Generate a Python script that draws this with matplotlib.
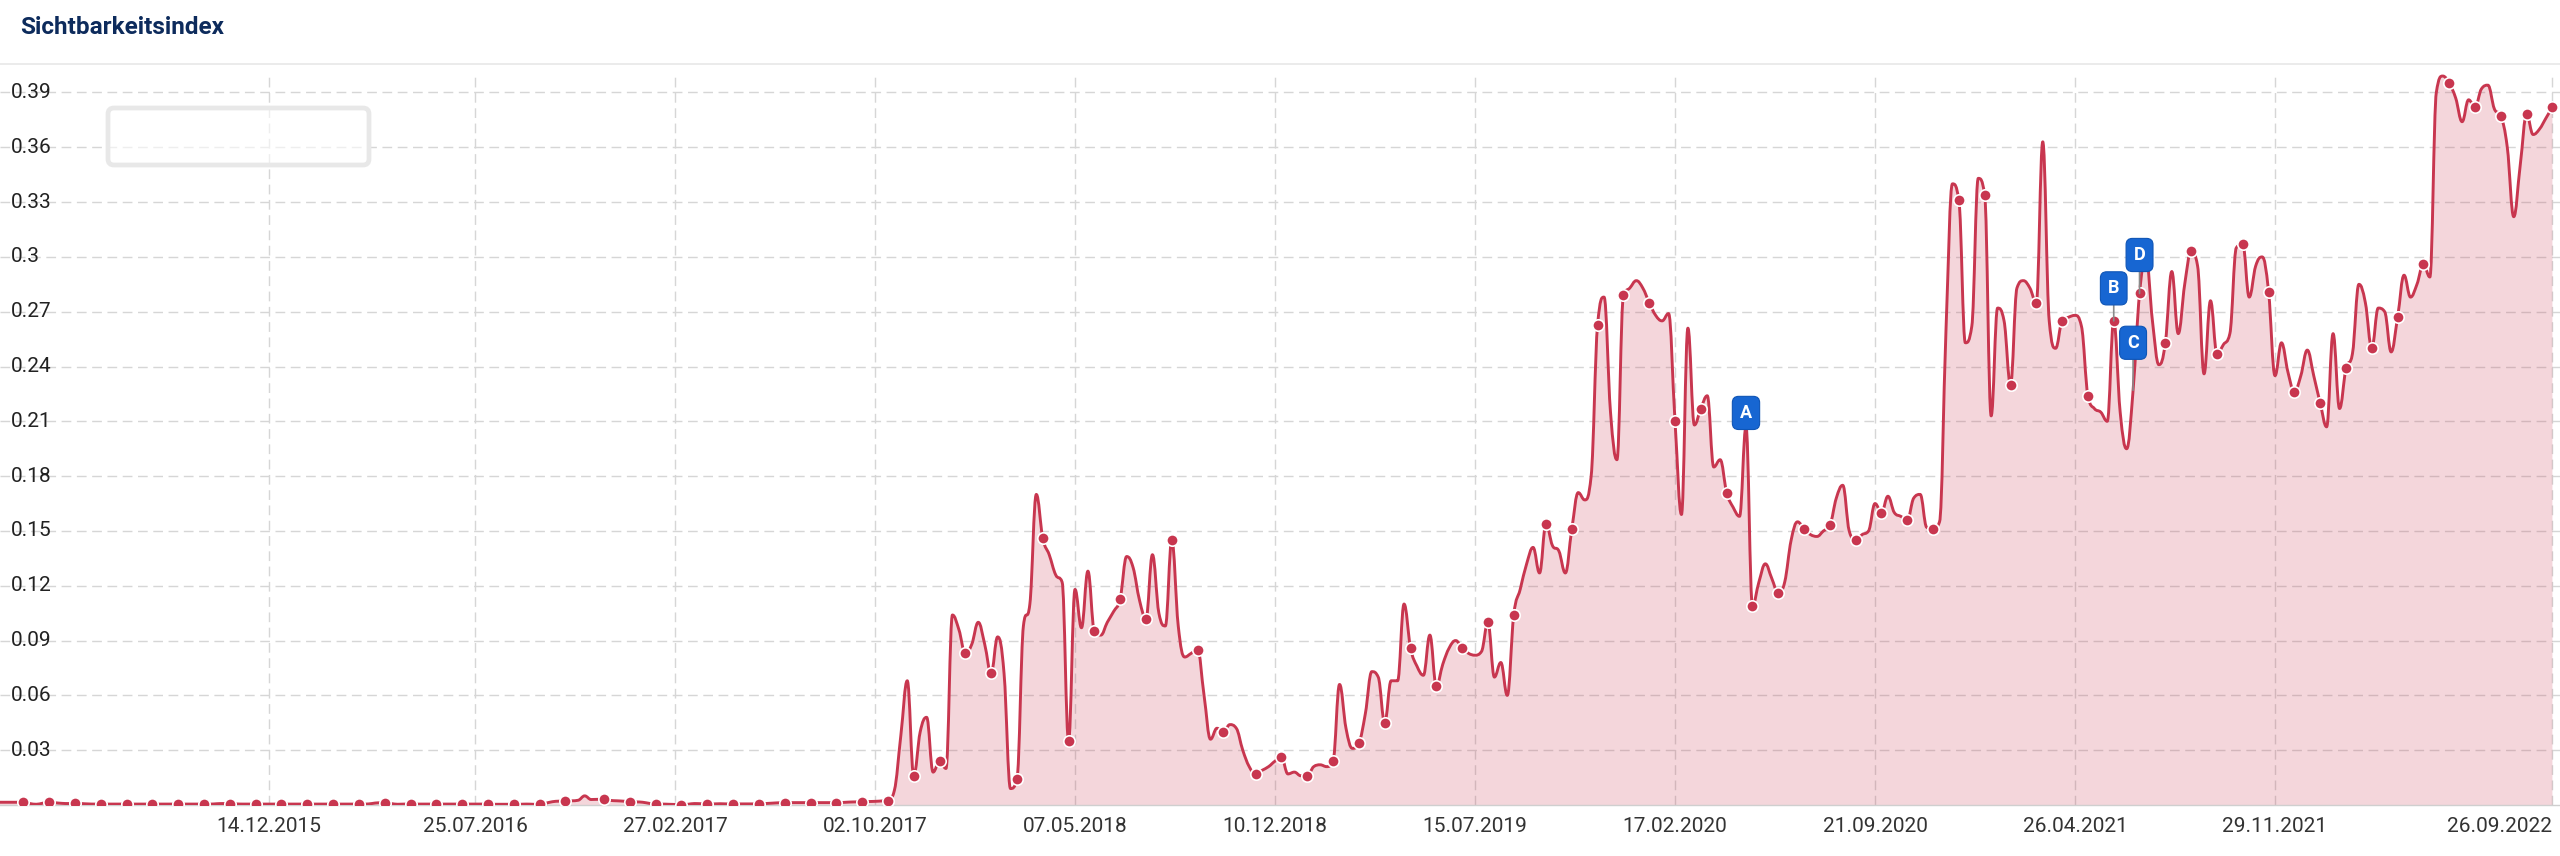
import numpy as np
import pandas as pd
import matplotlib
matplotlib.use("Agg")
import matplotlib.pyplot as plt
import matplotlib.dates as mdates
from matplotlib.path import Path
from matplotlib.patches import PathPatch, FancyBboxPatch
from matplotlib.lines import Line2D
from matplotlib.transforms import IdentityTransform

# ---------------- data ----------------
title = "Sichtbarkeitsindex"
first_week = "2015-02-23"          # weekly series (Mondays)

values = [
    # k0 - k135 (2015-02 .. 2017-09), almost zero
    0.0015, 0.0015, 0.0015, 0.0015, 0.0015, 0.0008, 0.0004, 0.0010, 0.0015, 0.0012,
    0.0009, 0.0008, 0.0012, 0.0008, 0.0006, 0.0005, 0.0005, 0.0005, 0.0005, 0.0005,
    0.0005, 0.0005, 0.0005, 0.0005, 0.0005, 0.0005, 0.0005, 0.0005, 0.0005, 0.0005,
    0.0005, 0.0005, 0.0005, 0.0005, 0.0007, 0.0008, 0.0008, 0.0006, 0.0005, 0.0005,
    0.0005, 0.0005, 0.0005, 0.0005, 0.0005, 0.0005, 0.0005, 0.0005, 0.0005, 0.0005,
    0.0005, 0.0005, 0.0005, 0.0005, 0.0005, 0.0005, 0.0005, 0.0005, 0.0008, 0.0012,
    0.0012, 0.0008, 0.0004, 0.0005, 0.0005, 0.0005, 0.0005, 0.0005, 0.0005, 0.0005,
    0.0005, 0.0005, 0.0005, 0.0005, 0.0005, 0.0005, 0.0005, 0.0004, 0.0004, 0.0004,
    0.0003, 0.0004, 0.0005, 0.0004, 0.0003, 0.0010, 0.0018, 0.0021, 0.0022, 0.0023,
    0.0026, 0.0050, 0.0030, 0.0031, 0.0031, 0.0025, 0.0023, 0.0021, 0.0018, 0.0017,
    0.0015, 0.0009, 0.0005, 0.0005, 0.0004, 0.0003, 0.0002, 0.0004, 0.0008, 0.0007,
    0.0006, 0.0006, 0.0007, 0.0006, 0.0006, 0.0006, 0.0006, 0.0006, 0.0006, 0.0008,
    0.0010, 0.0012, 0.0013, 0.0013, 0.0013, 0.0013, 0.0013, 0.0013, 0.0013, 0.0013,
    0.0013, 0.0014, 0.0016, 0.0017, 0.0018, 0.0019,
    # k136 - k139
    0.0020, 0.0022, 0.0024, 0.0080,
    # k140 - k389
    0.038, 0.068, 0.016, 0.040, 0.048, 0.018, 0.024, 0.020, 0.104, 0.096,
    0.083, 0.088, 0.100, 0.088, 0.072, 0.092, 0.072, 0.009, 0.014, 0.098,
    0.110, 0.170, 0.146, 0.137, 0.126, 0.122, 0.035, 0.118, 0.097, 0.128,
    0.095, 0.093, 0.100, 0.106, 0.113, 0.136, 0.130, 0.112, 0.102, 0.137,
    0.105, 0.098, 0.145, 0.098, 0.081, 0.083, 0.085, 0.060, 0.036, 0.042,
    0.040, 0.044, 0.042, 0.030, 0.021, 0.017, 0.019, 0.021, 0.024, 0.026,
    0.017, 0.018, 0.016, 0.016, 0.021, 0.022, 0.021, 0.024, 0.066, 0.042,
    0.031, 0.034, 0.050, 0.073, 0.070, 0.045, 0.068, 0.068, 0.110, 0.086,
    0.076, 0.071, 0.093, 0.065, 0.077, 0.086, 0.090, 0.086, 0.083, 0.082,
    0.084, 0.100, 0.070, 0.078, 0.060, 0.104, 0.118, 0.132, 0.141, 0.127,
    0.154, 0.142, 0.139, 0.127, 0.151, 0.171, 0.167, 0.180, 0.263, 0.278,
    0.215, 0.189, 0.279, 0.283, 0.287, 0.283, 0.275, 0.268, 0.265, 0.269,
    0.210, 0.159, 0.261, 0.208, 0.217, 0.224, 0.185, 0.189, 0.171, 0.163,
    0.158, 0.207, 0.109, 0.122, 0.132, 0.124, 0.116, 0.122, 0.145, 0.155,
    0.151, 0.148, 0.147, 0.150, 0.153, 0.168, 0.175, 0.150, 0.145, 0.148,
    0.150, 0.165, 0.160, 0.169, 0.160, 0.158, 0.156, 0.168, 0.170, 0.152,
    0.151, 0.155, 0.260, 0.340, 0.331, 0.253, 0.262, 0.343, 0.334, 0.213,
    0.272, 0.265, 0.230, 0.283, 0.287, 0.283, 0.275, 0.363, 0.265, 0.250,
    0.265, 0.267, 0.268, 0.262, 0.224, 0.217, 0.215, 0.210, 0.265, 0.215,
    0.195, 0.227, 0.280, 0.300, 0.265, 0.241, 0.253, 0.292, 0.258, 0.285,
    0.303, 0.295, 0.236, 0.276, 0.247, 0.252, 0.258, 0.305, 0.307, 0.278,
    0.295, 0.300, 0.281, 0.235, 0.253, 0.237, 0.226, 0.235, 0.249, 0.235,
    0.220, 0.207, 0.258, 0.217, 0.239, 0.247, 0.285, 0.275, 0.250, 0.272,
    0.270, 0.248, 0.267, 0.290, 0.278, 0.285, 0.296, 0.289, 0.390, 0.399,
    0.395, 0.387, 0.374, 0.386, 0.382, 0.392, 0.394, 0.381, 0.377, 0.360,
    # k390 - k396
    0.322, 0.350, 0.378, 0.367, 0.370, 0.376, 0.382,
]
assert len(values) == 397

# weeks that carry a visible dot
marker_weeks = (list(range(4, 89, 4)) + list(range(94, 191, 4))
                + list(range(195, 236, 4)) + list(range(240, 397, 4)))

flag_letters = ["A", "B", "C", "D"]
flag_weeks = [271, 328, 331, 332]

xtick_dates = ["2015-12-14", "2016-07-25", "2017-02-27", "2017-10-02",
               "2018-05-07", "2018-12-10", "2019-07-15", "2020-02-17",
               "2020-09-21", "2021-04-26", "2021-11-29", "2022-09-26"]
xtick_labels = ["14.12.2015", "25.07.2016", "27.02.2017", "02.10.2017",
                "07.05.2018", "10.12.2018", "15.07.2019", "17.02.2020",
                "21.09.2020", "26.04.2021", "29.11.2021", "26.09.2022"]
ytick_values = [0.03, 0.06, 0.09, 0.12, 0.15, 0.18, 0.21, 0.24, 0.27, 0.30, 0.33, 0.36, 0.39]
ytick_labels = ["0.03", "0.06", "0.09", "0.12", "0.15", "0.18", "0.21",
                "0.24", "0.27", "0.3", "0.33", "0.36", "0.39"]

# ---------------- style ----------------
W, H = 2560, 856
LINE = "#c8364f"
GRID = "#d6d6d6"
FLAG = "#1766d2"
FLAG_EDGE = "#0f55b6"
flag_offsets_pt = {"A": 10.0, "B": 23.4, "C": 34.2, "D": 27.7}
plt.rcParams["font.family"] = ["Roboto", "DejaVu Sans"]


def spline_path(xs, ys, smoothing=1.5):
    n = len(xs)
    den = smoothing + 1.0
    lc = [None] * n
    rc = [None] * n
    for i in range(1, n - 1):
        px, py = xs[i], ys[i]
        lx, ly = xs[i - 1], ys[i - 1]
        nx, ny = xs[i + 1], ys[i + 1]
        lcx = (smoothing * px + lx) / den
        lcy = (smoothing * py + ly) / den
        rcx = (smoothing * px + nx) / den
        rcy = (smoothing * py + ny) / den
        if rcx != lcx:
            corr = (rcy - lcy) * (rcx - px) / (rcx - lcx) + py - rcy
            lcy += corr
            rcy += corr
            if lcy > ly and lcy > py:
                lcy = max(ly, py); rcy = 2 * py - lcy
            elif lcy < ly and lcy < py:
                lcy = min(ly, py); rcy = 2 * py - lcy
            if rcy > ny and rcy > py:
                rcy = max(ny, py); lcy = 2 * py - rcy
            elif rcy < ny and rcy < py:
                rcy = min(ny, py); lcy = 2 * py - rcy
        lc[i] = (lcx, lcy)
        rc[i] = (rcx, rcy)
    verts = [(xs[0], ys[0])]
    codes = [Path.MOVETO]
    for i in range(1, n):
        c1 = rc[i - 1] if rc[i - 1] is not None else (xs[i - 1], ys[i - 1])
        c2 = lc[i] if lc[i] is not None else (xs[i], ys[i])
        verts += [c1, c2, (xs[i], ys[i])]
        codes += [Path.CURVE4] * 3
    return verts, codes


dates = pd.date_range(first_week, periods=len(values), freq="7D")
xnum = mdates.date2num(dates.to_pydatetime())
yv = np.array(values)

fig = plt.figure(figsize=(W / 100, H / 100), dpi=100)
fig.patch.set_facecolor("white")

ax_bottom_px, ax_top_px = 805, 72.4
ax = fig.add_axes([0, 1 - ax_bottom_px / H, 1, (ax_bottom_px - ax_top_px) / H])
ax.set_facecolor("white")

x0 = mdates.date2num(pd.Timestamp(first_week).to_pydatetime())
ax.set_xlim(x0 + 2.6, xnum[-1] + 8.2)
ax.set_ylim(0, 0.401)

# grid
ax.set_axisbelow(True)
ax.set_yticks(ytick_values)
ax.set_yticklabels([])
xt = mdates.date2num([pd.Timestamp(d).to_pydatetime() for d in xtick_dates])
ax.set_xticks(xt)
ax.set_xticklabels(xtick_labels, fontsize=15, color="#333333")
ax.grid(True, color=GRID, linestyle=(0, (7, 4)), linewidth=1.0)
ax.tick_params(axis="both", length=0)
ax.tick_params(axis="x", pad=9)
ax.get_xticklabels()[-1].set_ha("right")
for s in ["top", "left", "right"]:
    ax.spines[s].set_visible(False)
ax.spines["bottom"].set_color("#cfcfcf")
ax.spines["bottom"].set_linewidth(1.0)

for v, lab in zip(ytick_values, ytick_labels):
    ax.text(0.0042, v, lab, transform=ax.get_yaxis_transform(), ha="left",
            va="center", fontsize=15, color="#222222", zorder=7)

# area + spline line
verts, codes = spline_path(list(xnum), list(yv))
fill_verts = verts + [(xnum[-1], 0.0), (xnum[0], 0.0), (xnum[0], yv[0])]
fill_codes = codes + [Path.LINETO, Path.LINETO, Path.CLOSEPOLY]
ax.add_patch(PathPatch(Path(fill_verts, fill_codes), facecolor=LINE, alpha=0.2,
                       edgecolor="none", zorder=2))
ax.add_patch(PathPatch(Path(verts, codes), facecolor="none", edgecolor=LINE,
                       linewidth=2.1, zorder=3, capstyle="round", joinstyle="round"))

mw = np.array(marker_weeks)
ax.plot(xnum[mw], yv[mw], linestyle="none", marker="o", markersize=8.2,
        markerfacecolor=LINE, markeredgecolor="white", markeredgewidth=1.2, zorder=4)

# flags
for letter, wk in zip(flag_letters, flag_weeks):
    ax.annotate(letter, xy=(xnum[wk], yv[wk]), xytext=(0, flag_offsets_pt[letter]),
                textcoords="offset points", ha="center", va="center", fontsize=13,
                fontweight="bold", color="white", zorder=6,
                bbox=dict(boxstyle="round,pad=0.42,rounding_size=0.35", fc=FLAG,
                          ec=FLAG_EDGE, lw=0.8),
                arrowprops=dict(arrowstyle="-", color="#8a8a8a", lw=1.2,
                                shrinkA=0, shrinkB=0))

# header
fig.text(20 / W, 1 - 28 / H, title, fontsize=17.5, fontweight="bold",
         color="#0d2b5c", ha="left", va="center")
fig.add_artist(Line2D([0, W], [H - 64, H - 64], transform=IdentityTransform(),
                      color="#e6e6e6", linewidth=1.1))

# empty legend frame
fig.add_artist(FancyBboxPatch((108, H - 165), 261, 57,
                              boxstyle="round,pad=0,rounding_size=6",
                              transform=IdentityTransform(), facecolor=(1, 1, 1, 0.6),
                              edgecolor="#e8e8e8", linewidth=3.4, zorder=5))

fig.savefig("out.png", dpi=100, facecolor="white")
